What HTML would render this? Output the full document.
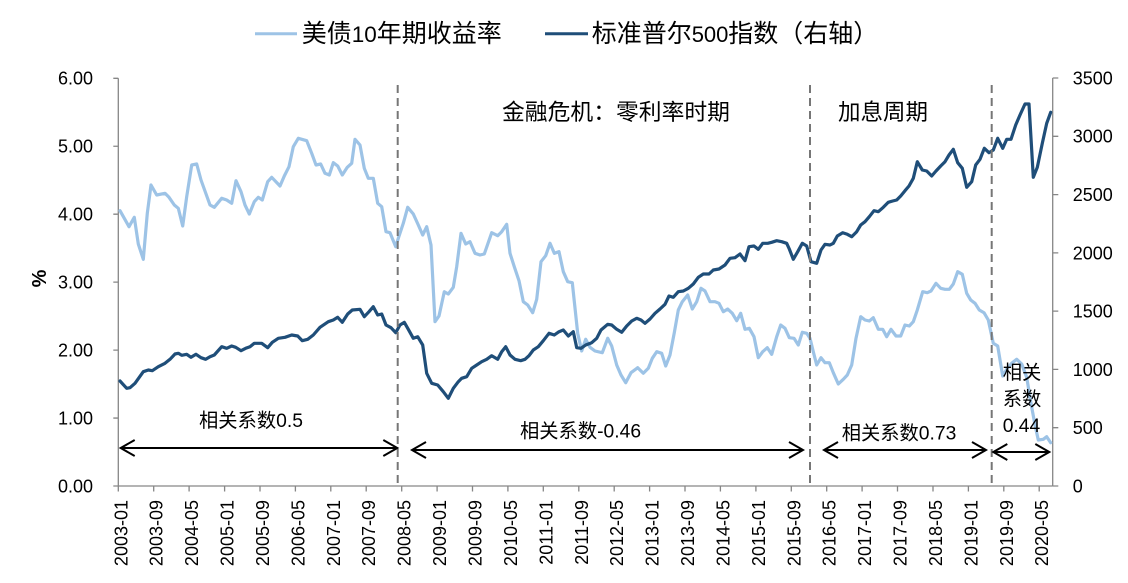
<!DOCTYPE html>
<html><head><meta charset="utf-8"><style>
html,body{margin:0;padding:0;background:#fff;overflow:hidden;}
svg{display:block;}
text{font-family:"Liberation Sans","Noto Sans CJK SC",sans-serif;fill:#000;}
</style></head><body>
<svg width="1128" height="583" viewBox="0 0 1128 583" xmlns="http://www.w3.org/2000/svg">
<rect width="1128" height="583" fill="#fff"/>

<!-- Legend -->
<line x1="255" y1="33.7" x2="297" y2="33.7" stroke="#9DC3E6" stroke-width="3"/>
<text y="42" font-size="25"><tspan x="301.7">美债</tspan><tspan x="351.7" font-size="22.5">10</tspan><tspan x="376.7">年期收益率</tspan></text>
<line x1="545" y1="33.7" x2="588" y2="33.7" stroke="#1F4E79" stroke-width="3"/>
<text y="42" font-size="25"><tspan x="591.7">标准普尔</tspan><tspan x="691.7" font-size="22">500</tspan><tspan x="728.3">指数（右轴）</tspan></text>

<!-- Axes -->
<g stroke="#868686" stroke-width="1.3" fill="none">
<line x1="118.3" y1="78.3" x2="118.3" y2="486"/>
<line x1="1052.7" y1="78" x2="1052.7" y2="486"/>
<line x1="118.3" y1="486" x2="1052.7" y2="486"/>
<path d="M113.3,78.3H118.3M113.3,146.25H118.3M113.3,214.2H118.3M113.3,282.15H118.3M113.3,350.1H118.3M113.3,418.05H118.3M113.3,486H118.3"/>
<path d="M1052.7,78H1058.3M1052.7,136.3H1058.3M1052.7,194.6H1058.3M1052.7,252.9H1058.3M1052.7,311.1H1058.3M1052.7,369.4H1058.3M1052.7,427.7H1058.3M1052.7,486H1058.3"/>
<path d="M118.3,486V491.5M153.7,486V491.5M189.1,486V491.5M224.6,486V491.5M260,486V491.5M295.4,486V491.5M330.8,486V491.5M366.2,486V491.5M401.7,486V491.5M437.1,486V491.5M472.5,486V491.5M507.9,486V491.5M543.3,486V491.5M578.8,486V491.5M614.2,486V491.5M649.6,486V491.5M685,486V491.5M720.4,486V491.5M755.9,486V491.5M791.3,486V491.5M826.7,486V491.5M862.1,486V491.5M897.5,486V491.5M933,486V491.5M968.4,486V491.5M1003.8,486V491.5M1039.2,486V491.5"/>
</g>

<!-- Left axis labels -->
<g font-size="18" text-anchor="end">
<text x="93" y="84.7">6.00</text>
<text x="93" y="152.65">5.00</text>
<text x="93" y="220.6">4.00</text>
<text x="93" y="288.55">3.00</text>
<text x="93" y="356.5">2.00</text>
<text x="93" y="424.45">1.00</text>
<text x="93" y="492.4">0.00</text>
</g>
<text font-size="20" font-weight="bold" text-anchor="middle" transform="translate(46,278.5) rotate(-90)">%</text>

<!-- Right axis labels -->
<g font-size="18">
<text x="1072.7" y="84.4">3500</text>
<text x="1072.7" y="142.7">3000</text>
<text x="1072.7" y="201">2500</text>
<text x="1072.7" y="259.3">2000</text>
<text x="1072.7" y="317.5">1500</text>
<text x="1072.7" y="375.8">1000</text>
<text x="1072.7" y="434.1">500</text>
<text x="1072.7" y="492.4">0</text>
</g>

<!-- X labels -->
<g font-size="18" text-anchor="end">
<text transform="translate(127.3,500) rotate(-90)">2003-01</text>
<text transform="translate(162.7,500) rotate(-90)">2003-09</text>
<text transform="translate(198.1,500) rotate(-90)">2004-05</text>
<text transform="translate(233.6,500) rotate(-90)">2005-01</text>
<text transform="translate(269,500) rotate(-90)">2005-09</text>
<text transform="translate(304.4,500) rotate(-90)">2006-05</text>
<text transform="translate(339.8,500) rotate(-90)">2007-01</text>
<text transform="translate(375.2,500) rotate(-90)">2007-09</text>
<text transform="translate(410.7,500) rotate(-90)">2008-05</text>
<text transform="translate(446.1,500) rotate(-90)">2009-01</text>
<text transform="translate(481.5,500) rotate(-90)">2009-09</text>
<text transform="translate(516.9,500) rotate(-90)">2010-05</text>
<text transform="translate(552.3,500) rotate(-90)">2011-01</text>
<text transform="translate(587.8,500) rotate(-90)">2011-09</text>
<text transform="translate(623.2,500) rotate(-90)">2012-05</text>
<text transform="translate(658.6,500) rotate(-90)">2013-01</text>
<text transform="translate(694,500) rotate(-90)">2013-09</text>
<text transform="translate(729.4,500) rotate(-90)">2014-05</text>
<text transform="translate(764.9,500) rotate(-90)">2015-01</text>
<text transform="translate(800.3,500) rotate(-90)">2015-09</text>
<text transform="translate(835.7,500) rotate(-90)">2016-05</text>
<text transform="translate(871.1,500) rotate(-90)">2017-01</text>
<text transform="translate(906.5,500) rotate(-90)">2017-09</text>
<text transform="translate(942,500) rotate(-90)">2018-05</text>
<text transform="translate(977.4,500) rotate(-90)">2019-01</text>
<text transform="translate(1012.8,500) rotate(-90)">2019-09</text>
<text transform="translate(1048.2,500) rotate(-90)">2020-05</text>
</g>

<!-- Light series: 10Y yield -->
<polyline fill="none" stroke="#9DC3E6" stroke-width="3.2" stroke-linejoin="round" stroke-linecap="round" points="120,210.7 124.3,218.3 129,226.7 134.3,217.3 138.3,244 143.3,259.3 147.3,213.3 151,185 156.7,195 165,193.3 169,197.3 174.3,205 178.3,208.3 182.7,226 186.7,196.7 191.7,165 196.7,164 201,180 210,205 214.3,207.3 221.7,198.3 226.7,200 231.7,203.3 236,180.7 241,191.7 245,205 249.3,214 254.3,201.7 258.3,197.3 262.3,200 267.7,181.7 271.7,177.3 280,186 284.3,176 289,166.7 293.3,146.7 298.3,138.3 306.7,140.7 311.7,153.3 316,165 320.7,164 325,173.3 329.3,175 333.3,162.7 337.7,166 342.3,175 347.3,167.3 351.7,163.3 355,139.3 360,145 364.3,168.3 368.3,178.3 373.3,178.3 377.7,203.3 381.7,206.7 386,231.7 390,232.7 395.7,246.7 398.3,238.3 403.3,223.3 407.7,207.3 413.3,214 418.3,225 422.7,235 426.7,226.7 431,245 435,321.7 439,316 444.3,291.7 448.3,294 453.3,287.3 456.7,266.7 461,233.3 465.7,244 470,241.7 475,253.3 480,255 484.3,254 491.7,232.7 497.7,235.7 501.7,231.7 506.7,224.3 510,253.3 514.3,266.7 519,280.7 523.3,301.7 527.7,305 532.7,312.7 536.7,299.3 541,261.7 545.7,255.7 550,243.3 554.3,253.3 559,251.7 563.3,271.7 567.7,281.7 572.3,282.7 577.7,333.3 581.7,351 585.7,339.3 590,347.3 595,351 602.3,352.7 607.7,338.3 611.7,346 616.7,365 621,375 625.7,382.7 631,372.7 637.7,367.7 643.3,373.3 648.3,368.3 652.3,358.3 656.7,351.7 661.7,353.3 665.7,366 670,355 674.3,332.7 678.3,310 682.3,301.7 687.7,295 692.3,309 696.7,301.7 701,288.3 705,291 710,301.7 715,301.7 719,303.3 723.3,311.7 727.7,309 732.3,313.3 736.7,320.7 740.7,313.3 745,329.3 749.3,328.3 754,336.7 758.3,357.7 762.7,351.7 767.3,347.7 771.7,354.3 776.7,336.7 780.7,325 785,328.3 789.3,337.7 794,338.3 798.3,345 802.3,332.3 806.7,333.3 810,338.3 813.3,351.7 816.7,365 821,357.7 825,362.7 829.3,362.7 833.3,372.7 838.3,384 843.3,379.3 847.3,375 851.7,365 856,338.3 860.7,316.7 865,320 869.3,321 873.3,317.7 878.3,329.3 882.7,329.3 886.7,336.7 891,329.3 896,336 900.7,336 905,325 909.3,326 913.3,321.7 917.3,310 922.7,291.7 927.3,292.7 931,291 936,283.3 940.7,288.3 945,289.3 949.3,289.3 953.3,284 957.7,271.7 962.3,274.3 966.7,293.3 970.7,300 975,303.3 979.3,310 984,312.7 988.3,320 993.3,343.3 997.7,346 1002.7,376 1007.3,368.3 1011.7,363.3 1016.7,359.3 1021.7,364 1026.7,377.3 1031,403.3 1035,425 1038.3,440 1043.3,439.3 1046.7,436.7 1050.7,442.7"/>

<!-- Dark series: S&P 500 -->
<polyline fill="none" stroke="#1F4E79" stroke-width="3.2" stroke-linejoin="round" stroke-linecap="round" points="120,381 126.7,388.3 130,387.7 135,383.3 143.3,371.7 148.3,370 152.3,370.7 158.3,366.7 165,363.3 170,359.3 175,354 178.3,353.3 181.7,355.3 186.7,354.3 191,357.3 196,354.3 201,357.7 205.7,359.3 210,356.7 214.3,355 221.7,346.7 226.7,348.3 231.7,346 235.7,347.3 241,350.7 245.7,348.3 250,346.7 254.3,343.3 261.7,343.3 267.7,347.7 272.3,342.3 278.3,338.3 285,337.3 291.7,335 297.7,336 302.3,340.7 307.7,339.3 313.3,335 320,327.3 328.3,321.7 333.3,320 337.7,317.3 342.3,322.3 347.7,314 352.3,310 360,309.3 364.3,316.7 369,311.7 373.3,306.7 377.7,315 381.7,314 386,325 391,327.7 395.7,332.7 400,325 404.3,322.3 408.3,329.3 413.3,338.3 417.7,336.7 422.7,345 426.7,373.3 431.7,383.3 437.7,385 443.3,391.7 448.3,398.3 453.3,388.3 458.3,381.7 461.7,378.3 466.7,376.7 471.7,368.3 476.7,365 481.7,361.7 486.7,359.3 491.7,355.7 497.7,359.3 501.7,351.7 505.7,346.7 510,355 515,359.3 520.7,360.7 525,359.3 529,355.7 533.3,350 538.3,346.7 543.3,340.7 549,333.3 554.3,335 559,331.7 563.3,330 568.3,336 573.3,331.7 576.7,347.7 581,348.3 585.7,345 591.7,342.7 596.7,338.3 601,330 607.7,324.3 611.7,325 616.7,329.3 621.7,332.3 626.7,326 631.7,321 636.7,318.3 641,320 645,323.3 650,319 655,313.3 660,309 665,304.3 669,296 673.3,297.3 678.3,291.7 683.3,291 688.3,288.3 693.3,284 698.3,277.3 703.3,274 709,274 713.3,270 719,269 725,265 730,258.3 735,257.7 740,254 745,260.7 749,246.7 754,246 758.3,249.3 762.7,243.3 767.7,243.3 771.7,242.3 776.7,240.7 781.7,241.7 786.7,243.3 789.3,249 793.3,259.3 797.7,251.7 802.3,243.3 806.7,246 811,261.7 816.7,263.3 821,250 825,244.3 830,245 833.3,243.3 837.3,236 842.7,232.7 847.3,234.3 851.7,236.7 856.7,231.7 860.7,225 865,221.7 869.3,216.7 874,210.7 878.3,211.7 883.3,207.3 888.3,202.3 892.7,201 896.7,200 900.7,196 905,190.7 909,186 913.3,178.3 917.3,161.7 922.3,170 926.7,171 931.7,176 936,171 940.7,166 945,161.7 949,155 953.3,149.3 957.7,162.7 962.3,168.3 966.7,187.3 971.7,181.7 975.7,165 980,159.3 984.3,148.3 989,152.7 993.3,150 997.7,138.3 1002.7,148.3 1006.7,139.3 1011,139.3 1015.7,125 1020,115 1025,104 1029,104 1033.3,177.3 1037.3,167.3 1042.3,143.3 1046.7,123.3 1050.7,112.3"/>

<!-- Dashed separators -->
<g stroke="#767676" stroke-width="2" stroke-dasharray="8 5" fill="none">
<line x1="397.7" y1="85" x2="397.7" y2="486"/>
<line x1="810" y1="85" x2="810" y2="486"/>
<line x1="991.7" y1="85" x2="991.7" y2="486"/>
</g>

<!-- Period titles -->
<text x="502" y="120" font-size="22.8">金融危机：零利率时期</text>
<text x="838" y="120" font-size="22.5">加息周期</text>

<!-- Arrows -->
<g stroke="#000" stroke-width="2" fill="none" stroke-linejoin="miter">
<path d="M120.7,448H397.3M134.7,440L120.7,448L134.7,456M383.3,440L397.3,448L383.3,456"/>
<path d="M412,450H803M426,442L412,450L426,458M789,442L803,450L789,458"/>
<path d="M824,450H986M838,442L824,450L838,458M972,442L986,450L972,458"/>
<path d="M993.3,452H1049.3M1007.3,444L993.3,452L1007.3,460M1035.3,444L1049.3,452L1035.3,460"/>
</g>

<!-- Correlation labels -->
<g font-size="19.3">
<text x="199" y="427">相关系数0.5</text>
<text x="520" y="437.5">相关系数-0.46</text>
<text x="841.7" y="439.5">相关系数0.73</text>
<text x="1002.7" y="379">相关</text>
<text x="1002.7" y="405.5">系数</text>
<text x="1002.7" y="432">0.44</text>
</g>
</svg>
</body></html>
